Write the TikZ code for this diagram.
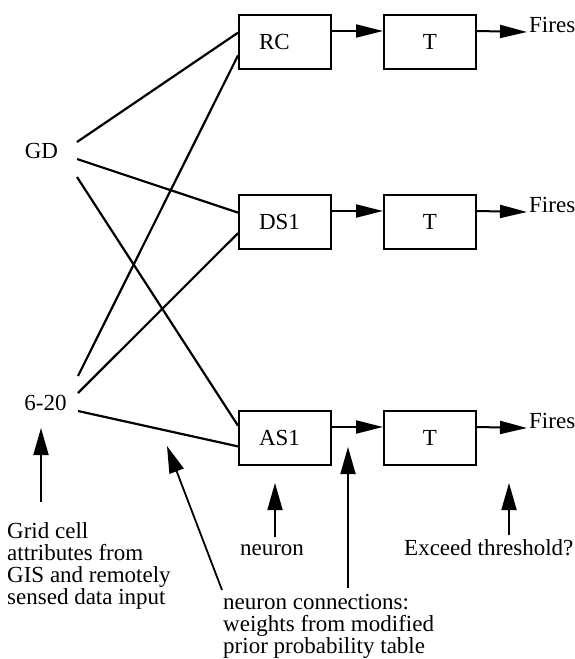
\documentclass[tikz,border=0pt]{standalone}
\usepackage{fontspec}
\setmainfont{Liberation Serif}
\usetikzlibrary{arrows.meta,calc}
\begin{document}
\begin{tikzpicture}[x=1pt,y=-1pt,
  every node/.style={font=\fontsize{23}{22}\selectfont, inner sep=0pt},
  box/.style={draw, line width=2pt, minimum width=92pt, minimum height=54pt, inner xsep=20pt, text width=52pt},
  nbox/.style={box, align=left},
  tbox/.style={box, align=center},
  wire/.style={line width=2.2pt},
  arr/.style={line width=2pt, -{Triangle[length=27pt,width=13pt]}},
  varr/.style={line width=1.8pt, -{Triangle[length=27pt,width=15pt]}},
  lbl/.style={align=left}]
\useasboundingbox (0,0) rectangle (575,659);

% boxes
\node[nbox] (RC)  at (285,42)  {RC};
\node[tbox] (T1)  at (430,42)  {T};
\node[nbox] (DS1) at (285,222) {DS1};
\node[tbox] (T2)  at (430,222) {T};
\node[nbox] (AS1) at (285,438) {AS1};
\node[tbox] (T3)  at (430,438) {T};

% inputs
\node[anchor=base] (GD)   at (41.5,158) {GD};
\node[anchor=base] (S620) at (45.5,410) {6-20};

% outputs
\node[anchor=base west] (F1) at (529,32)  {Fires};
\node[anchor=base west] (F2) at (529,212) {Fires};
\node[anchor=base west] (F3) at (529,428) {Fires};

% horizontal arrows
\draw[arr] ($(RC.north east)+(0,17)$)  -- ($(T1.north west)+(0,17)$);
\draw[arr] ($(DS1.north east)+(0,17)$) -- ($(T2.north west)+(0,17)$);
\draw[arr] ($(AS1.north east)+(0,17)$) -- ($(T3.north west)+(0,17)$);
\draw[arr] ($(T1.north east)+(0,17)$) -- ([xshift=-2pt]F1.base west);
\draw[arr] ($(T2.north east)+(0,17)$) -- ([xshift=-2pt]F2.base west);
\draw[arr] ($(T3.north east)+(0,17)$) -- ([xshift=-2pt]F3.base west);

% connection start points
\coordinate (gd1) at (77,142);
\coordinate (gd2) at (77,159);
\coordinate (gd3) at (77,177);
\coordinate (s1)  at (78,376);
\coordinate (s2)  at (78,393);
\coordinate (s3)  at (78,411);

\draw[wire] (gd1) -- ($(RC.north west)!0.333!(RC.south west)$);
\draw[wire] (gd2) -- ($(DS1.north west)!0.333!(DS1.south west)$);
\draw[wire] (gd3) -- ($(AS1.north west)!0.28!(AS1.south west)$);
\draw[wire] (s1) -- ($(RC.north west)!0.74!(RC.south west)$);
\draw[wire] (s2) -- ($(DS1.north west)!0.70!(DS1.south west)$);
\draw[wire] (s3) -- ($(AS1.north west)!0.65!(AS1.south west)$);

% annotations
\node[lbl, anchor=north west] (grid) at (7,522) {Grid cell\\attributes from\\GIS and remotely\\sensed data input};
\node[anchor=base] (neu) at (272,555) {neuron};
\node[anchor=base west] (exc) at (404,555) {Exceed threshold?};
\node[lbl, anchor=north west] (conn) at (223,594) {neuron connections:\\weights from modified\\prior probability table};

\coordinate (ga) at (41,502);  \coordinate (gb) at (41,428);
\coordinate (da) at (222,590); \coordinate (db) at (167,446);
\coordinate (na) at (275,537); \coordinate (nb) at (275,483);
\coordinate (ca) at (348,588); \coordinate (cb) at (348,447);
\coordinate (ea) at (509,535); \coordinate (eb) at (509,483);

\draw[varr] (ga) -- (gb);
\draw[varr] (da) -- (db);
\draw[varr] (na) -- (nb);
\draw[varr] (ca) -- (cb);
\draw[varr] (ea) -- (eb);
\end{tikzpicture}
\end{document}
